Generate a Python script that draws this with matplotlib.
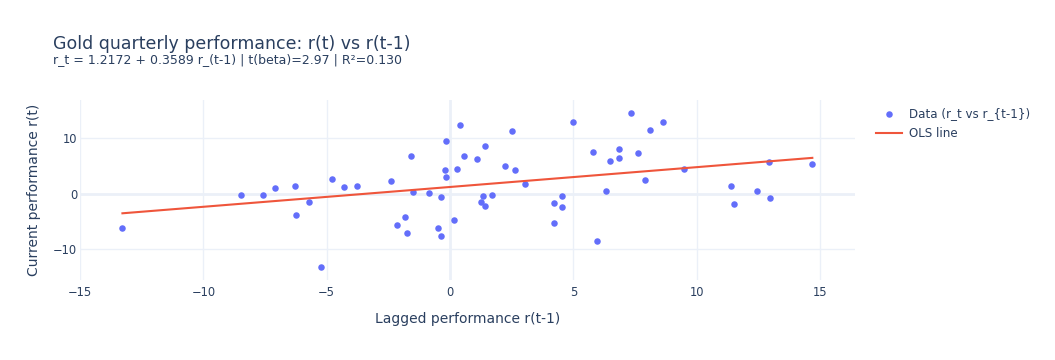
import matplotlib
matplotlib.use("Agg")
import matplotlib.pyplot as plt
import numpy as np

# Data
lagged = [-13.28, -8.47, -7.57, -7.09, -6.28, -6.26, -5.70, -5.23, -4.80, -4.28,
          -3.78, -2.41, -2.15, -1.81, -1.76, -1.59, -1.49, -0.84, -0.50, -0.36,
          -0.35, -0.17, -0.19, -0.17, 0.15, 0.30, 0.40, 0.57, 1.08, 1.24,
          1.32, 1.42, 1.42, 1.70, 2.23, 2.50, 2.63, 3.04, 4.22, 4.22,
          4.55, 4.55, 4.97, 5.81, 5.96, 6.31, 6.50, 6.86, 6.86, 7.35,
          7.62, 7.89, 8.09, 8.63, 9.49, 11.39, 11.51, 12.43, 12.94, 12.99,
          14.69]
current = [-6.27, -0.18, -0.24, 1.03, 1.39, -3.80, -1.56, -13.28, 2.66, 1.21,
           1.34, 2.24, -5.73, -4.28, -7.06, 6.88, 0.25, 0.18, -6.27, -0.54,
           -7.61, 9.49, 4.24, 3.03, -4.76, 4.53, 12.45, 6.88, 6.28, -1.45,
           -0.36, -2.17, 8.64, -0.18, 4.96, 11.36, 4.24, 1.70, -1.74, -5.25,
           -0.36, -2.41, 12.93, 7.61, -8.51, 0.43, 5.92, 8.10, 6.47, 14.67,
           7.37, 2.48, 11.54, 12.99, 4.53, 1.39, -1.81, 0.54, 5.80, -0.78,
           5.38]
alpha = 1.2172
beta = 0.3589
x_ticks = [-15, -10, -5, 0, 5, 10, 15]
y_ticks = [-10, 0, 10]

title = "Gold quarterly performance: r(t) vs r(t-1)"
subtitle = "r_t = 1.2172 + 0.3589 r_(t-1) | t(beta)=2.97 | R\u00b2=0.130"

W, H = 1055, 360
fig = plt.figure(figsize=(W / 100, H / 100), dpi=100)
plt.rcParams['font.family'] = ['DejaVu Sans']
txt = '#2a3f5f'
grid = '#EBF0F8'

ax = fig.add_axes([80 / W, 1 - 280 / H, (855 - 80) / W, 180 / H])
ax.set_xlim(-15.0, 16.42)
ax.set_ylim(-15.63, 16.97)
for s in ax.spines.values():
    s.set_visible(False)
ax.set_xticks(x_ticks)
ax.set_yticks(y_ticks)
ax.tick_params(length=0, colors=txt, labelsize=8.3)
ax.tick_params(axis='x', pad=4)
ax.tick_params(axis='y', pad=2)
ax.set_axisbelow(True)
for t in x_ticks:
    ax.axvline(t, color=grid, lw=2 if t == 0 else 1, zorder=0)
for t in y_ticks:
    ax.axhline(t, color=grid, lw=2 if t == 0 else 1, zorder=0)

ax.scatter(lagged, current, s=22, color='#636efa', linewidths=0, zorder=3,
           label='Data (r_t vs r_{t-1})')
xl = np.array([min(lagged), max(lagged)])
ax.plot(xl, alpha + beta * xl, color='#EF553B', lw=1.5, zorder=4, label='OLS line')

ax.set_xlabel('Lagged performance r(t-1)', color=txt, fontsize=10, labelpad=10)
ax.set_ylabel('Current performance r(t)', color=txt, fontsize=10, labelpad=9)

fig.text(53 / W, 1 - 44 / H, title, color=txt, fontsize=12.5, va='center', ha='left')
fig.text(53 / W, 1 - 60 / H, subtitle, color=txt, fontsize=9.0, va='center', ha='left')

leg = ax.legend(loc='upper left', bbox_to_anchor=(876 / W, 1 - 107 / H),
                bbox_transform=fig.transFigure, frameon=False, fontsize=8.6,
                labelcolor=txt, handlelength=2.2, handletextpad=0.6,
                borderaxespad=0, borderpad=0, labelspacing=0.6)

fig.savefig('out.png', dpi=100, facecolor='white')
